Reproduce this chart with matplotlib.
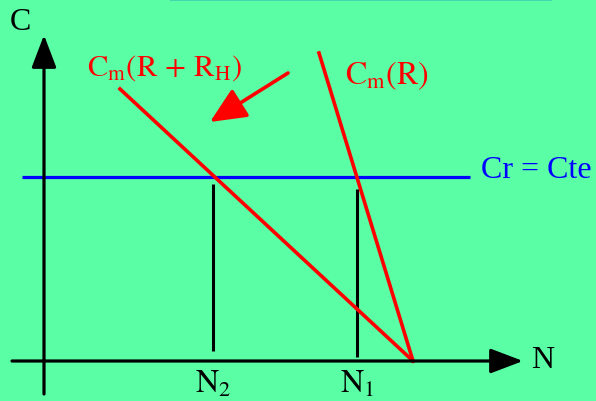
import matplotlib
matplotlib.use("Agg")
import matplotlib.pyplot as plt

plt.rcParams['mathtext.fontset'] = 'stix'
plt.rcParams['font.family'] = ['Liberation Serif', 'DejaVu Serif']

# diagram geometry, in picture pixels (x right, y down)
x_axis = [12, 523]          # horizontal axis: start, arrow tip
y_axis = [395, 36]          # vertical axis: start, arrow tip
axis_x0, axis_y0 = 44, 362  # where the axes sit
cr_x = [22, 470]            # Cr = Cte line extent
cr_y = 178
line_rh_x = [120, 413]      # Cm(R + RH)
line_rh_y = [90, 362]
line_r_x = [319, 413]       # Cm(R)
line_r_y = [54, 362]
n_x = [213, 357]            # N2, N1 markers
n_top = [185, 190]
n_bot = [352, 358]
n_labels = [r'$\mathrm{N_2}$', r'$\mathrm{N_1}$']
shift_tail = (288, 74)      # red arrow
shift_tip = (210, 123)

bg = '#5AFFA5'
fig = plt.figure(figsize=(5.96, 4.02), dpi=100, facecolor=bg)
ax = fig.add_axes([0, 0, 1, 1])
ax.set_facecolor(bg)
ax.set_xlim(0, 596)
ax.set_ylim(402, 0)
ax.axis('off')

# faint strip at the top edge
ax.plot([170, 552], [0.5, 0.5], color='#45D8B0', lw=1.5, solid_capstyle='butt')

head = dict(arrowstyle='-|>,head_length=1.0,head_width=0.38', mutation_scale=20,
            shrinkA=0, shrinkB=0, color='black', lw=2.3)
ax.annotate('', xy=(x_axis[1], axis_y0), xytext=(x_axis[0], axis_y0), arrowprops=head)
ax.annotate('', xy=(axis_x0, y_axis[1]), xytext=(axis_x0, y_axis[0]), arrowprops=head)

ax.plot(cr_x, [cr_y, cr_y], color='#0000FF', lw=2.3, solid_capstyle='butt')

for x, t, b in zip(n_x, n_top, n_bot):
    ax.plot([x, x], [t, b], color='black', lw=2.2, solid_capstyle='butt')

ax.plot(line_rh_x, line_rh_y, color='#FF0000', lw=2.6)
ax.plot(line_r_x, line_r_y, color='#FF0000', lw=2.6)

red_head = dict(arrowstyle='-|>,head_length=1.1,head_width=0.5', mutation_scale=20,
                shrinkA=0, shrinkB=0, color='#FF0000', lw=2.6)
ax.annotate('', xy=shift_tip, xytext=shift_tail, arrowprops=red_head)

fs = 23
ax.text(20, 22, 'C', fontsize=fs, ha='center', va='center')
ax.text(543, 361, 'N', fontsize=fs, ha='center', va='center')
for x, lab in zip(n_x, n_labels):
    ax.text(x, 384, lab, fontsize=fs, ha='center', va='center')

ax.text(87, 68, r'$\mathrm{C_m(R}\,+\,\mathrm{R_H)}$', fontsize=22, color='#FF0000',
        ha='left', va='center')
ax.text(345, 76, r'$\mathrm{C_m(R)}$', fontsize=fs, color='#FF0000', ha='left', va='center')
ax.text(481, 171, 'Cr = Cte', fontsize=fs, color='#0000FF', ha='left', va='center')

fig.savefig('out.png', dpi=100, facecolor=bg)
